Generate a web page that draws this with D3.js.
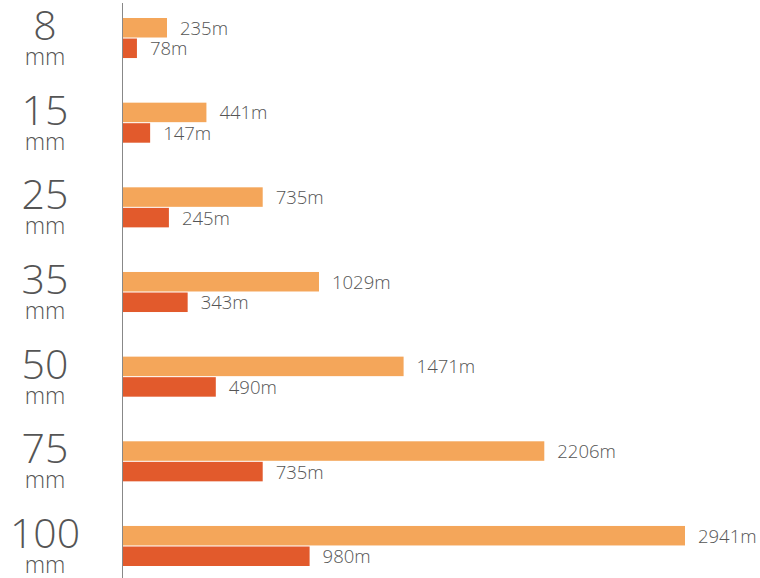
<!DOCTYPE html>
<html>
<head>
<meta charset="utf-8">
<script src="https://cdn.jsdelivr.net/npm/d3@7"></script>
<style>
  html, body { margin: 0; padding: 0; background: #fff; }
  svg text { font-family: "Open Sans", "Lato", sans-serif; fill: #555; }
</style>
</head>
<body>
<div id="chart"></div>
<script>
// focal lengths (mm) and distances (m)
const categories = ['8', '15', '25', '35', '50', '75', '100'];
const unitLabel = 'mm';
const seriesNames = ['far', 'near'];
const farValues = [235, 441, 735, 1029, 1471, 2206, 2941];
const nearValues = [78, 147, 245, 343, 490, 735, 980];
const colors = ['#F4A65A', '#E25A2C'];

const width = 760, height = 578;

const svg = d3.select('#chart')
    .append('svg')
    .attr('width', width)
    .attr('height', height);

const y = d3.scaleBand()
    .domain(categories)
    .range([18, 566])
    .paddingInner(0.527)
    .paddingOuter(0);

const ySub = d3.scaleBand()
    .domain(seriesNames)
    .range([0, y.bandwidth()])
    .paddingInner(0.05);

const x = d3.scaleLinear()
    .domain([0, d3.max(farValues)])
    .range([122, 685]);

const rows = categories.map((c, i) => ({
    cat: c,
    values: [
        { key: 'far', v: farValues[i] },
        { key: 'near', v: nearValues[i] }
    ]
}));

const groups = svg.selectAll('.group')
    .data(rows)
    .enter()
    .append('g')
    .attr('class', 'group')
    .attr('transform', d => `translate(0,${y(d.cat)})`);

groups.selectAll('rect')
    .data(d => d.values)
    .enter()
    .append('rect')
    .attr('x', x(0))
    .attr('y', d => ySub(d.key))
    .attr('width', d => x(d.v) - x(0))
    .attr('height', ySub.bandwidth())
    .attr('fill', (d, i) => colors[i]);

groups.selectAll('.val')
    .data(d => d.values)
    .enter()
    .append('text')
    .attr('class', 'val')
    .attr('x', d => x(d.v) + 13)
    .attr('y', d => ySub(d.key) + ySub.bandwidth() / 2 + 7)
    .style('font-size', '18.5px')
    .style('font-weight', 300)
    .text(d => d.v + 'm');

// category labels on the left
const labels = svg.selectAll('.cat')
    .data(categories)
    .enter()
    .append('g')
    .attr('class', 'cat')
    .attr('transform', d => `translate(45,${y(d) + y.bandwidth() / 2})`);

labels.append('text')
    .attr('text-anchor', 'middle')
    .attr('y', 2)
    .style('font-size', '41px')
    .style('font-weight', 300)
    .text(d => d);

labels.append('text')
    .attr('text-anchor', 'middle')
    .attr('y', 27)
    .style('font-size', '23px')
    .style('font-weight', 300)
    .text(unitLabel);

// vertical axis line
svg.append('line')
    .attr('x1', x(0) + 0.5)
    .attr('x2', x(0) + 0.5)
    .attr('y1', 3)
    .attr('y2', height)
    .attr('stroke', '#888')
    .attr('stroke-width', 1);
</script>
</body>
</html>
